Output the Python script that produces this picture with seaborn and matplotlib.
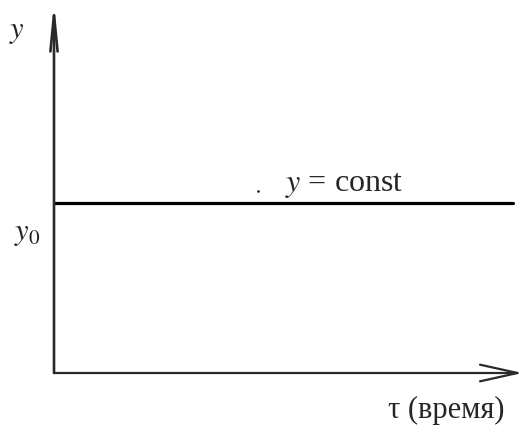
import matplotlib
matplotlib.use("Agg")
import matplotlib.pyplot as plt
import seaborn as sns
import pandas as pd

# данные: постоянная величина y = y0 во времени
tau = [0.0, 9.89]
y_vals = [1.0, 1.0]
y0 = 1.0
x_max = 10.0
y_max = 2.11

sns.set_style("white")
plt.rcParams["font.family"] = ["Liberation Serif", "DejaVu Serif"]
plt.rcParams["mathtext.fontset"] = "stix"

W, H = 523, 436
fig = plt.figure(figsize=(W / 100, H / 100), dpi=100)
ax = fig.add_axes([54 / W, (H - 373) / H, 464 / W, 359 / H])
ax.set_xlim(0, x_max)
ax.set_ylim(0, y_max)
ax.axis("off")

df = pd.DataFrame({"tau": tau, "y": y_vals})
sns.lineplot(data=df, x="tau", y="y", color="black", linewidth=2.3, ax=ax)

# оси со стрелками
axis_col = "#2a2a2a"
ax.annotate("", xy=(0, y_max + 0.07), xytext=(0, 0),
            arrowprops=dict(arrowstyle="->,head_length=1.3,head_width=0.13",
                            color=axis_col, lw=1.9, mutation_scale=20,
                            shrinkA=0, shrinkB=0), annotation_clip=False)
ax.annotate("", xy=(x_max + 0.1, 0), xytext=(0, 0),
            arrowprops=dict(arrowstyle="->,head_length=1.35,head_width=0.3",
                            color=axis_col, lw=1.6, mutation_scale=20,
                            shrinkA=0, shrinkB=0), annotation_clip=False)

ax.text(-0.80, 2.01, "$y$", fontsize=22, ha="center", va="center", clip_on=False)
ax.text(-0.57, 0.82, "$y_0$", fontsize=22, ha="center", va="center", clip_on=False)
ax.text(6.25, 1.10, "$y$ = const", fontsize=23, ha="center", va="center")
ax.plot([4.40], [1.07], marker="o", markersize=0.8, color="black")
ax.text(8.45, -0.22, "τ (время)", fontsize=22, ha="center", va="center", clip_on=False)

fig.savefig("out.png", dpi=100)
